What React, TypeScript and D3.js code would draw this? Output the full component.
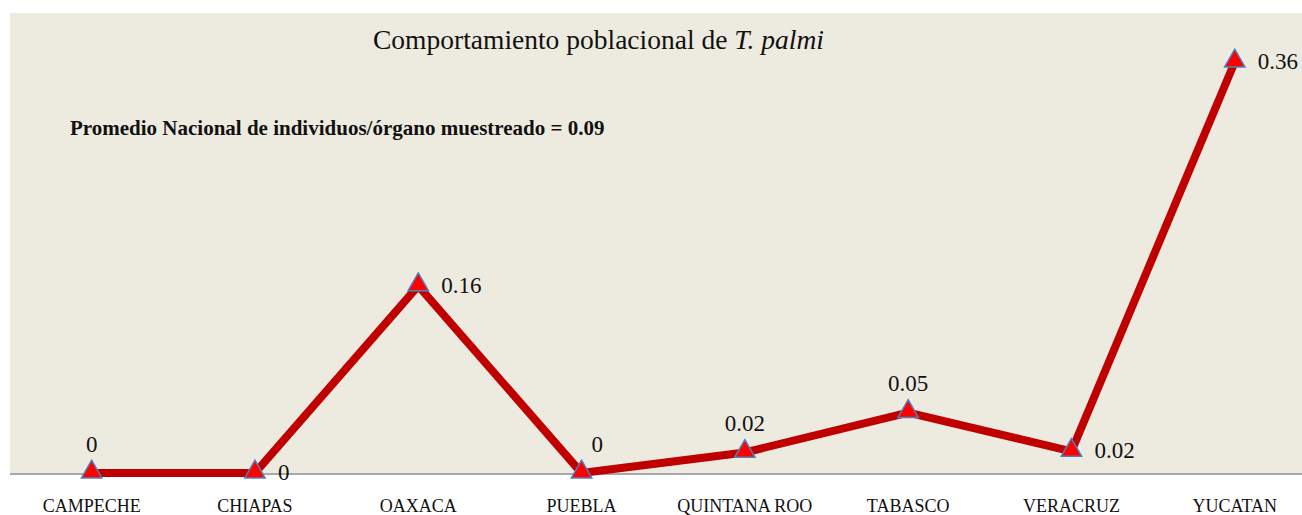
import * as d3 from "d3";
import { useEffect, useRef } from "react";

// estados y promedio de individuos por órgano muestreado
const states = [
  "CAMPECHE",
  "CHIAPAS",
  "OAXACA",
  "PUEBLA",
  "QUINTANA ROO",
  "TABASCO",
  "VERACRUZ",
  "YUCATAN",
];
const values = [0, 0, 0.164, 0, 0.018, 0.053, 0.019, 0.36];
// where each value label sits relative to its marker
const labelPos = ["top", "right", "right", "topright", "top", "top", "right", "right"];

const W = 1302;
const H = 515;

const App = () => {
  const svgRef = useRef(null);

  useEffect(() => {
    const svg = d3.select(svgRef.current);
    svg.selectAll("*").remove();

    const left = 10;
    const top = 13;
    const baseY = 473;

    // plot background
    svg
      .append("rect")
      .attr("x", left)
      .attr("y", top)
      .attr("width", W - left)
      .attr("height", baseY - top)
      .attr("fill", "#EDEBE0");

    const x = d3
      .scaleBand()
      .domain(states)
      .range([left, left + 8 * 163.3]);

    const y = d3.scaleLinear().domain([0, 0.36]).range([baseY, 62]);

    const cx = (d) => x(d) + x.bandwidth() / 2;

    // axis line
    svg
      .append("line")
      .attr("x1", left)
      .attr("x2", W)
      .attr("y1", baseY + 1)
      .attr("y2", baseY + 1)
      .attr("stroke", "#8c8c8c")
      .attr("stroke-width", 1.5);

    // category labels
    svg
      .selectAll(".cat")
      .data(states)
      .enter()
      .append("text")
      .attr("x", (d) => cx(d))
      .attr("y", 512)
      .attr("text-anchor", "middle")
      .attr("font-family", "Liberation Serif, serif")
      .attr("font-size", 18)
      .attr("fill", "#111")
      .text((d) => d);

    // line
    const line = d3
      .line()
      .x((d, i) => cx(states[i]))
      .y((d) => y(d));

    svg
      .append("path")
      .datum(values)
      .attr("d", line)
      .attr("fill", "none")
      .attr("stroke", "#C00000")
      .attr("stroke-width", 8)
      .attr("stroke-linejoin", "miter");

    // triangle markers
    const tri = d3.symbol().type(d3.symbolTriangle).size(180);
    svg
      .selectAll(".mk")
      .data(values)
      .enter()
      .append("path")
      .attr("d", tri)
      .attr("transform", (d, i) => `translate(${cx(states[i])}, ${y(d) - 1})`)
      .attr("fill", "#FF0000")
      .attr("stroke", "#4F81BD")
      .attr("stroke-width", 1.5);

    // value labels
    const fmt = (v) => (v === 0 ? "0" : v.toFixed(2));
    svg
      .selectAll(".lbl")
      .data(values)
      .enter()
      .append("text")
      .attr("x", (d, i) => {
        const p = labelPos[i];
        if (p === "top") return cx(states[i]);
        if (p === "topright") return cx(states[i]) + 10;
        return cx(states[i]) + 23;
      })
      .attr("y", (d, i) => {
        const p = labelPos[i];
        if (p === "right") return y(d) + 7;
        return y(d) - 21;
      })
      .attr("text-anchor", (d, i) => (labelPos[i] === "top" ? "middle" : "start"))
      .attr("font-family", "Liberation Serif, serif")
      .attr("font-size", 23)
      .attr("fill", "#111")
      .text((d) => fmt(d));

    // title
    const title = svg
      .append("text")
      .attr("x", 373)
      .attr("y", 49)
      .attr("font-family", "Liberation Serif, serif")
      .attr("font-size", 27.5)
      .attr("fill", "#111");
    title.append("tspan").text("Comportamiento poblacional de ");
    title.append("tspan").attr("font-style", "italic").text("T. palmi");

    svg
      .append("text")
      .attr("x", 70)
      .attr("y", 135)
      .attr("font-family", "Liberation Serif, serif")
      .attr("font-weight", "bold")
      .attr("font-size", 21)
      .attr("fill", "#111")
      .text("Promedio Nacional de individuos/órgano muestreado = 0.09");
  }, []);

  return (
    <svg
      ref={svgRef}
      width={W}
      height={H}
      style={{ position: "absolute", left: 0, top: 0, background: "#fff" }}
    ></svg>
  );
};

export default App;
